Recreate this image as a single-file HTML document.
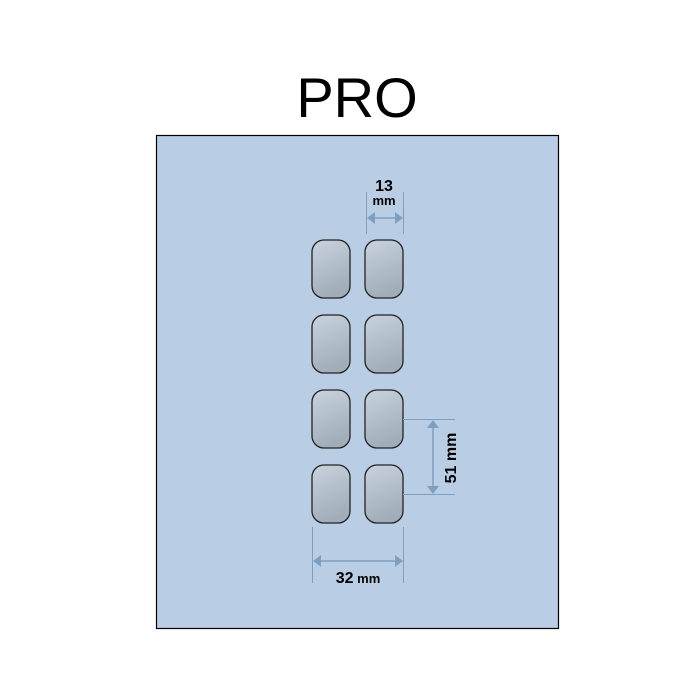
<!DOCTYPE html>
<html><head><style>body{margin:0;background:#fff}</style></head><body>
<svg width="688" height="687" xmlns="http://www.w3.org/2000/svg" font-family="Liberation Sans, Arial, sans-serif">
<defs>
<linearGradient id="g" x1="0" y1="0" x2="0.3" y2="1">
<stop offset="0" stop-color="#c8d3df"/><stop offset="1" stop-color="#a2adba"/></linearGradient>
</defs>
<text x="357" y="117" font-size="56" text-anchor="middle" fill="#000">PRO</text>
<rect x="156.5" y="135.5" width="402" height="493" fill="#b9cde5" stroke="#000" stroke-width="1.2"/>
<g fill="url(#g)" stroke="#222" stroke-width="1.3">
<rect x="312" y="240" width="38" height="58" rx="12"/><rect x="365" y="240" width="38" height="58" rx="12"/>
<rect x="312" y="315" width="38" height="58" rx="12"/><rect x="365" y="315" width="38" height="58" rx="12"/>
<rect x="312" y="390" width="38" height="58" rx="12"/><rect x="365" y="390" width="38" height="58" rx="12"/>
<rect x="312" y="465" width="38" height="58" rx="12"/><rect x="365" y="465" width="38" height="58" rx="12"/>
</g>
<g stroke="#7f9fc0" stroke-width="1" fill="none">
<line x1="366.5" y1="192" x2="366.5" y2="234"/><line x1="403.5" y1="192" x2="403.5" y2="234"/>
<line x1="370" y1="218" x2="400" y2="218" stroke-width="1.5"/>
<line x1="403" y1="419.5" x2="455" y2="419.5"/><line x1="403" y1="494.5" x2="455" y2="494.5"/>
<line x1="433" y1="423" x2="433" y2="491" stroke-width="1.5"/>
<line x1="312.5" y1="527" x2="312.5" y2="583"/><line x1="403.5" y1="527" x2="403.5" y2="583"/>
<line x1="316" y1="561" x2="400" y2="561" stroke-width="1.5"/>
</g>
<g fill="#7f9fc0">
<polygon points="367,218 375,212 375,224"/><polygon points="403,218 395,212 395,224"/>
<polygon points="433,420 427,428 439,428"/><polygon points="433,494 427,486 439,486"/>
<polygon points="313,561 321,555 321,567"/><polygon points="403,561 395,555 395,567"/>
</g>
<text x="384" y="191" font-size="16" font-weight="bold" text-anchor="middle">13</text>
<text x="384" y="205" font-size="13" font-weight="bold" text-anchor="middle">mm</text>
<text transform="translate(456,458) rotate(-90)" font-size="16" font-weight="bold" text-anchor="middle">51 mm</text>
<text x="358" y="583" text-anchor="middle" font-weight="bold"><tspan font-size="16">32</tspan><tspan font-size="13"> mm</tspan></text>
</svg>
</body></html>
